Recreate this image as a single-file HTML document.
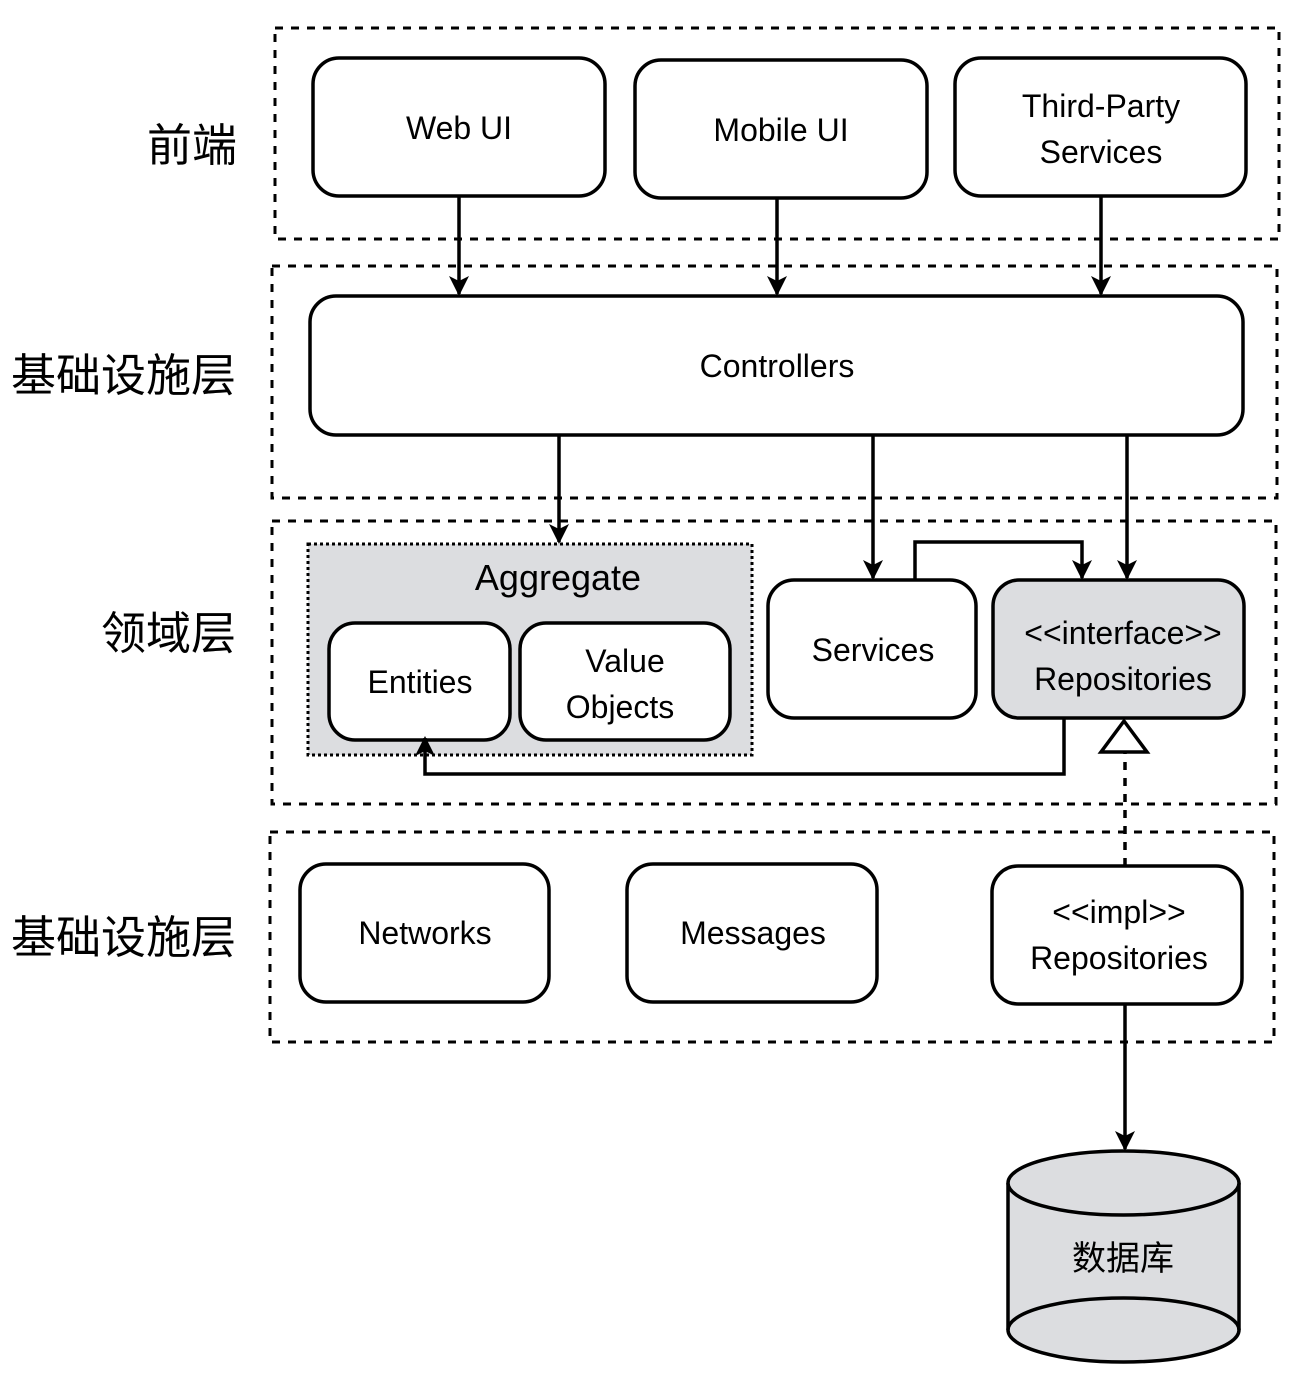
<!DOCTYPE html>
<html><head><meta charset="utf-8"><style>
html,body{margin:0;padding:0;background:#fff}
svg{display:block}
text{font-family:"Liberation Sans","Noto Sans CJK SC",sans-serif;fill:#000}
</style></head><body>
<svg width="1292" height="1380" viewBox="0 0 1292 1380" xmlns="http://www.w3.org/2000/svg">
<defs>
<marker id="a" viewBox="0 0 20 20" refX="18" refY="10" markerWidth="20" markerHeight="20" markerUnits="userSpaceOnUse" orient="auto">
<path d="M0,0 L20,10 L0,20 L5,10 Z" fill="#000"/>
</marker>
</defs>
<g fill="none" stroke="#000" stroke-width="3" stroke-dasharray="8,8">
<rect x="275" y="28" width="1004" height="211"/>
<rect x="272" y="266" width="1005" height="232"/>
<rect x="272" y="521" width="1004" height="283"/>
<rect x="270" y="832" width="1004" height="210"/>
</g>
<g font-size="45" text-anchor="end">
<text x="237" y="161">前端</text>
<text x="236" y="391">基础设施层</text>
<text x="236" y="649">领域层</text>
<text x="236" y="953">基础设施层</text>
</g>
<rect x="308" y="544" width="444" height="211" fill="#dcdde0" stroke="#000" stroke-width="3" stroke-dasharray="3,3"/>
<g stroke="#000" stroke-width="3.5" fill="#fff">
<rect x="313" y="58" width="292" height="138" rx="26"/>
<rect x="635" y="60" width="292" height="138" rx="26"/>
<rect x="955" y="58" width="291" height="138" rx="26"/>
<rect x="310" y="296" width="933" height="139" rx="26"/>
<rect x="329" y="623" width="181" height="117" rx="26"/>
<rect x="520" y="623" width="210" height="117" rx="26"/>
<rect x="768" y="580" width="208" height="138" rx="26"/>
<rect x="993" y="580" width="251" height="138" rx="26" fill="#dcdde0"/>
<rect x="300" y="864" width="249" height="138" rx="26"/>
<rect x="627" y="864" width="250" height="138" rx="26"/>
<rect x="992" y="866" width="250" height="138" rx="26"/>
<path d="M1008,1183 L1008,1330 A115.5,32 0 0 0 1239,1330 L1239,1183" fill="#dcdde0"/>
<ellipse cx="1123.5" cy="1183" rx="115.5" ry="32" fill="#dcdde0"/>
<path d="M1008,1330 A115.5,32 0 0 1 1239,1330" fill="none"/>
</g>
<g font-size="32" text-anchor="middle">
<text x="459" y="139">Web UI</text>
<text x="781" y="141">Mobile UI</text>
<text x="1101" y="117">Third-Party</text>
<text x="1101" y="163">Services</text>
<text x="777" y="377">Controllers</text>
<text x="558" y="590" font-size="36">Aggregate</text>
<text x="420" y="693">Entities</text>
<text x="625" y="672">Value</text>
<text x="620" y="718">Objects</text>
<text x="873" y="661">Services</text>
<text x="1123" y="644">&lt;&lt;interface&gt;&gt;</text>
<text x="1123" y="690">Repositories</text>
<text x="425" y="944">Networks</text>
<text x="753" y="944">Messages</text>
<text x="1119" y="923">&lt;&lt;impl&gt;&gt;</text>
<text x="1119" y="969">Repositories</text>
<text x="1123" y="1270" font-size="34">数据库</text>
</g>
<g fill="none" stroke="#000" stroke-width="3.5">
<line x1="459" y1="196" x2="459" y2="294" marker-end="url(#a)"/>
<line x1="777" y1="198" x2="777" y2="294" marker-end="url(#a)"/>
<line x1="1101" y1="196" x2="1101" y2="294" marker-end="url(#a)"/>
<line x1="559" y1="435" x2="559" y2="542" marker-end="url(#a)"/>
<line x1="873" y1="435" x2="873" y2="578" marker-end="url(#a)"/>
<line x1="1127" y1="435" x2="1127" y2="578" marker-end="url(#a)"/>
<polyline points="915,580 915,542 1082,542 1082,578" marker-end="url(#a)"/>
<polyline points="1064,718 1064,774 425,774 425,738" marker-end="url(#a)"/>
<line x1="1125" y1="1004" x2="1125" y2="1149" marker-end="url(#a)"/>
<line x1="1125" y1="866" x2="1125" y2="752" stroke-dasharray="8,8"/>
<polygon points="1124,721 1101,752 1147,752" fill="#fff"/>
</g>
</svg>
</body></html>
